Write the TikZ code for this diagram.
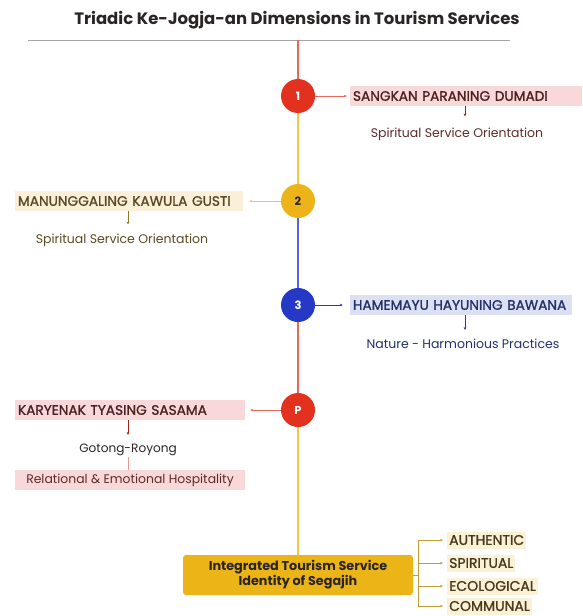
\documentclass[tikz,border=0pt]{standalone}
\usepackage{fontspec}
\setmainfont{Poppins}
\newfontfamily\pmed{Poppins}[FakeBold=1.2]
\usetikzlibrary{arrows.meta}
\definecolor{cred}{HTML}{E2311F}
\definecolor{cyel}{HTML}{EDB41A}
\definecolor{cblue}{HTML}{2538C6}
\definecolor{lred}{HTML}{E4685C}
\definecolor{lyel}{HTML}{F2C542}
\definecolor{lblue}{HTML}{5766D6}
\definecolor{fred}{HTML}{F8D8D8}
\definecolor{fyel}{HTML}{FAF0DA}
\definecolor{fblue}{HTML}{DCE0F3}
\definecolor{flab}{HTML}{FBF1D6}
\definecolor{tdark}{HTML}{2B2424}
\definecolor{tred}{HTML}{5E2A2A}
\definecolor{tbrown}{HTML}{5A4A22}
\definecolor{tblue}{HTML}{23306A}
\definecolor{gold}{HTML}{EBB517}
\begin{document}
\begin{tikzpicture}[x=1pt,y=-1pt,
  num/.style={circle, minimum size=34pt, inner sep=0pt, text=white, font=\bfseries\fontsize{11.5}{12}\selectfont},
  dimbox/.style={minimum height=20pt, inner xsep=3pt, inner ysep=0pt, text width=#1, align=left, text height=9.6pt, text depth=0pt, font=\pmed\fontsize{13.7}{14}\selectfont},
  subtxt/.style={inner sep=1pt, font=\fontsize{12.5}{13}\selectfont},
  lab/.style={fill=flab, minimum height=17pt, inner xsep=2pt, inner ysep=0pt, anchor=west, text=tbrown!80!black, font=\pmed\fontsize{14}{15}\selectfont},
  tip/.style={-{Stealth[length=3pt,width=2.6pt]}},
  spine/.style={line width=1.3pt},
  conn/.style={line width=0.6pt}
]
\useasboundingbox (0,0) rectangle (583,616);

\node[font=\bfseries\fontsize{16.5}{18}\selectfont, text=tdark] (title) at (297,20) {Triadic Ke-Jogja-an Dimensions in Tourism Services};
\coordinate (rl) at (28,40);
\coordinate (rr) at (510,40);
\draw[gray!70, line width=0.8pt] (rl) -- (rr);
\coordinate (top) at (298,40);

\node[num, fill=cred] (c1) at (298,96) {1};
\node[num, fill=cyel, text=tdark] (c2) at (298,201) {2};
\node[num, fill=cblue] (c3) at (298,305) {3};
\node[num, fill=cred] (cP) at (298,410) {P};
\node[fill=gold, rounded corners=3pt, minimum width=230pt, minimum height=40pt, inner sep=0pt, align=center, text=tdark, font=\bfseries\fontsize{12.8}{15}\selectfont] (core) at (298,575) {Integrated Tourism Service\\Identity of Segajih};

\draw[spine, lred] (top) -- (c1.north);
\draw[spine, lyel] (c1.south) -- (c2.north);
\draw[spine, lblue] (c2.south) -- (c3.north);
\draw[spine, lred] (c3.south) -- (cP.north);
\draw[spine, lyel] (cP.south) -- (core.north);

% dimension boxes
\node[dimbox=226pt, fill=fred, text=tred!80!black] (b1) at (466,96) {SANGKAN PARANING DUMADI};
\node[dimbox=222pt, fill=fyel, text=tbrown] (b2) at (129,201) {MANUNGGALING KAWULA GUSTI};
\node[dimbox=216pt, fill=fblue, text=tblue] (b3) at (461,305) {HAMEMAYU HAYUNING BAWANA};
\node[dimbox=224pt, fill=fred, text=tred!80!black] (bP) at (130,410) {KARYENAK TYASING SASAMA};
\node[fill=fred, minimum width=230pt, minimum height=20pt, inner sep=0pt, text=tred, font=\fontsize{12.4}{13}\selectfont] (bR) at (130,480) {Relational \& Emotional Hospitality};

\node[subtxt, text=tred] (s1) at (457,134) {Spiritual Service Orientation};
\node[subtxt, text=tbrown] (s2) at (122,240) {Spiritual Service Orientation};
\node[subtxt, text=tblue] (s3) at (463,344) {Nature - Harmonious Practices};
\node[subtxt, text=tdark, font=\fontsize{12.1}{13}\selectfont] (sP) at (128,450) {Gotong-Royong};

\draw[conn, tip, lred] (c1.east) -- ([xshift=-3pt]b1.west);
\draw[conn, tip, lyel] (c2.west) -- ([xshift=6pt]b2.east);
\draw[conn, tip, cblue] (c3.east) -- ([xshift=-7pt]b3.west);
\draw[conn, tip, lred] (cP.west) -- ([xshift=5pt]bP.east);

\draw[conn, tip, cred!70!black, shorten >=10pt] ([xshift=-1pt]b1.south) -- ([xshift=-1pt]b1.south |- s1.north);
\draw[conn, tip, lyel!60!black, shorten >=8pt] ([xshift=-1pt]b2.south) -- ([xshift=-1pt]b2.south |- s2.north);
\draw[conn, tip, cblue, shorten >=8pt] ([xshift=4pt]b3.south) -- ([xshift=4pt]b3.south |- s3.north);
\draw[conn, tip, cred!70!black, shorten >=8pt] ([xshift=-2pt]bP.south) -- ([xshift=-2pt]bP.south |- sP.north);
\draw[conn, lred!70] ([xshift=-2pt]bR.north |- sP.south) -- ([xshift=-2pt]bR.north);

% outcome labels
\node[lab] (l1) at (447,540) {AUTHENTIC};
\node[lab] (l2) at (447,563) {SPIRITUAL};
\node[lab] (l3) at (447,586) {ECOLOGICAL};
\node[lab] (l4) at (447,606) {COMMUNAL};
\coordinate (br) at (418,575);
\draw[conn, lyel!80!black] (core.east) -- (br);
\foreach \l in {l1,l2,l3,l4}
  \draw[conn, tip, lyel!80!black, shorten >=4pt] (br) |- (\l.west);
\end{tikzpicture}
\end{document}
